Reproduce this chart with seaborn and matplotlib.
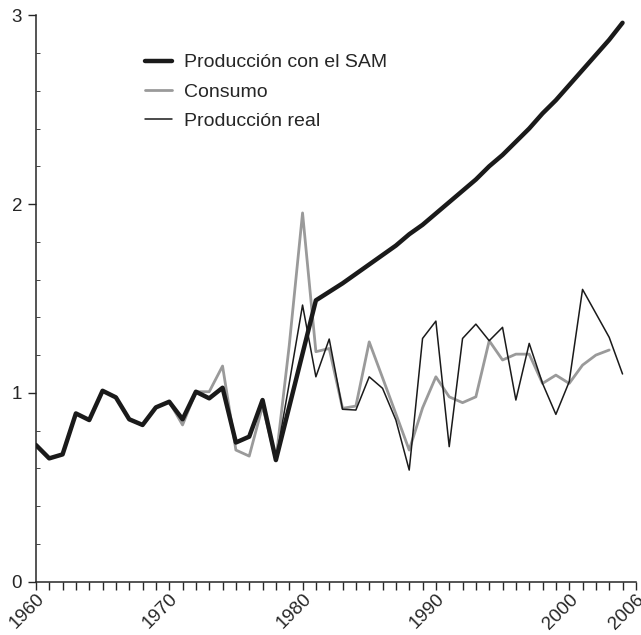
import numpy as np
import pandas as pd
import matplotlib
matplotlib.use("Agg")
import matplotlib.pyplot as plt
from matplotlib.ticker import MultipleLocator
import seaborn as sns

# values, one per year position (1960 ...)
produccion_sam = [0.724, 0.653, 0.674, 0.891, 0.856, 1.011, 0.976, 0.86, 0.83, 0.923,
                  0.953, 0.86, 1.006, 0.971, 1.027, 0.737, 0.768, 0.962, 0.644, 0.926,
                  1.208, 1.49, 1.535, 1.58, 1.63, 1.68, 1.73, 1.78, 1.84, 1.89,
                  1.95, 2.01, 2.07, 2.13, 2.20, 2.26, 2.33, 2.40, 2.48, 2.55,
                  2.63, 2.71, 2.79, 2.87, 2.96]
consumo = [0.724, 0.653, 0.674, 0.891, 0.856, 1.011, 0.976, 0.86, 0.83, 0.923,
           0.953, 0.83, 1.006, 1.006, 1.142, 0.697, 0.665, 0.93, 0.644, 1.25,
           1.953, 1.218, 1.235, 0.918, 0.93, 1.27, 1.08, 0.889, 0.697, 0.92,
           1.085, 0.979, 0.948, 0.979, 1.276, 1.174, 1.205, 1.205, 1.05, 1.094,
           1.05, 1.147, 1.2, 1.227]
produccion_real = [0.724, 0.653, 0.674, 0.891, 0.856, 1.011, 0.976, 0.86, 0.83, 0.923,
                   0.953, 0.86, 1.006, 0.971, 1.027, 0.737, 0.768, 0.962, 0.644, 1.05,
                   1.465, 1.085, 1.285, 0.913, 0.909, 1.085, 1.024, 0.856, 0.591, 1.288,
                   1.38, 0.715, 1.288, 1.364, 1.276, 1.347, 0.962, 1.262, 1.05, 0.886,
                   1.059, 1.548, 1.421, 1.294, 1.10]

tick_positions = [0, 10, 20, 30, 40, 45]
tick_labels = ["1960", "1970", "1980", "1990", "2000", "2006"]
n_ticks = 46

sns.set_style("ticks")
plt.rcParams["font.family"] = ["Liberation Sans", "DejaVu Sans"]

fig = plt.figure(figsize=(6.41, 6.35), dpi=100)
ax = fig.add_axes([0.056, 0.084, 0.936, 0.892])

df_cons = pd.DataFrame({"x": range(len(consumo)), "y": consumo})
df_real = pd.DataFrame({"x": range(len(produccion_real)), "y": produccion_real})
df_sam = pd.DataFrame({"x": range(len(produccion_sam)), "y": produccion_sam})

sns.lineplot(data=df_cons, x="x", y="y", ax=ax, color="#9a9a9a", linewidth=2.0,
             label="Consumo", zorder=2)
sns.lineplot(data=df_real, x="x", y="y", ax=ax, color="#1a1a1a", linewidth=1.1,
             label="Producción real", zorder=3)
sns.lineplot(data=df_sam, x="x", y="y", ax=ax, color="#1a1a1a", linewidth=3.2,
             label="Producción con el SAM", zorder=4)

ax.set_xlim(0, n_ticks - 1)
ax.set_ylim(0, 3)
ax.set_xticks(range(n_ticks), minor=True)
ax.set_xticks(tick_positions)
ax.set_xticklabels(tick_labels, rotation=45, ha="right", va="top",
                   rotation_mode="anchor", fontsize=13.5)
ax.set_yticks([0, 1, 2, 3])
ax.yaxis.set_minor_locator(MultipleLocator(0.2))
ax.tick_params(axis="y", labelsize=13.5, length=6, width=1, pad=4)
ax.tick_params(axis="y", which="minor", length=3, width=0.6, direction="in")
ax.tick_params(axis="x", which="both", length=6, width=1)
ax.tick_params(axis="x", which="major", pad=0.5)
ax.set_xlabel("")
ax.set_ylabel("")
sns.despine(ax=ax)
for s in ["left", "bottom"]:
    ax.spines[s].set_linewidth(1.1)

handles, labels = ax.get_legend_handles_labels()
order = [2, 0, 1]
ax.legend([handles[i] for i in order], [labels[i] for i in order],
          loc="upper left", bbox_to_anchor=(0.182, 0.932), frameon=False,
          fontsize=14, handlelength=1.4, handletextpad=0.6, labelspacing=0.6,
          borderpad=0, borderaxespad=0)

fig.savefig("out.png", dpi=100)
